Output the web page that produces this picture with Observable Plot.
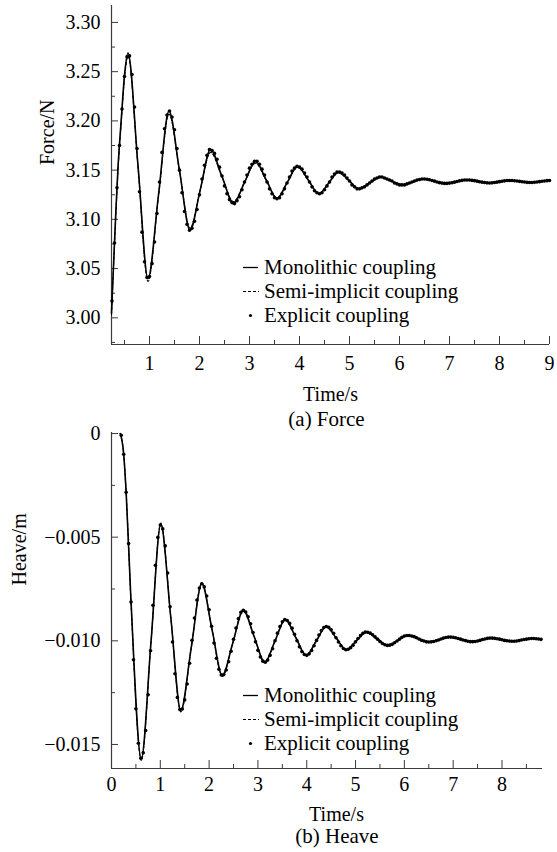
<!DOCTYPE html>
<html><head><meta charset="utf-8">
<script src="https://cdn.jsdelivr.net/npm/d3@7"></script>
<script src="https://cdn.jsdelivr.net/npm/@observablehq/plot@0.6"></script>
<style>
html,body{margin:0;padding:0;background:#fff;}
#page{position:relative;width:557px;height:852px;font-family:"Liberation Serif","Times New Roman",serif;color:#000;overflow:hidden;}
.caption{position:absolute;font-size:21px;line-height:20px;white-space:nowrap;transform:translateX(-50%);}
.legend{position:absolute;font-size:21px;line-height:24px;}
.legend .row{display:flex;align-items:center;height:24px;white-space:nowrap;}
.legend svg{display:block;flex:none;}
</style></head><body><div id="page"></div>
<script>
// ---------- (a) Force ----------
const forceKeyT = [0.24,0.32,0.367,0.433,0.507,0.57,0.77,0.97,1.18,1.39,1.60,1.81,2.015,2.22,2.45,2.68,2.90,3.12,3.335,3.55,3.755,3.96,4.175,4.39,4.585,4.78,4.985,5.19,5.405,5.62,5.835,6.05,6.265,6.48,6.70,6.92,7.135,7.35,7.575,7.80,8.00,8.20,8.41,8.62,8.83,9.00];
const forceMono = [3.005,3.100,3.150,3.200,3.250,3.269,3.1545,3.040,3.125,3.210,3.1495,3.089,3.130,3.171,3.1435,3.116,3.1375,3.159,3.140,3.121,3.1375,3.154,3.140,3.126,3.137,3.148,3.1395,3.131,3.137,3.143,3.139,3.135,3.138,3.141,3.13875,3.1365,3.13825,3.140,3.1385,3.137,3.13825,3.1395,3.1385,3.1375,3.1385,3.1395];
const forceSemi = [3.003,3.097,3.147,3.197,3.247,3.266,3.1535,3.037,3.123,3.207,3.149,3.091,3.130,3.168,3.143,3.118,3.1375,3.157,3.1395,3.122,3.1375,3.153,3.140,3.126,3.137,3.148,3.1395,3.131,3.137,3.143,3.139,3.135,3.138,3.141,3.13875,3.1365,3.13825,3.140,3.1385,3.137,3.13825,3.1395,3.1385,3.1375,3.1385,3.1395];
const forceExplT = [0.25,0.30,0.35,0.40,0.45,0.50,0.55,0.60,0.65,0.70,0.75,0.80,0.85,0.90,0.95,1.00,1.05,1.10,1.15,1.20,1.25,1.30,1.35,1.40,1.45,1.50,1.55,1.60,1.65,1.70,1.75,1.80,1.85,1.90,1.95,2.00,2.05,2.10,2.15,2.20,2.25,2.30,2.35,2.40,2.45,2.50,2.55,2.60,2.65,2.70,2.75,2.80,2.85,2.90,2.95,3.00,3.05,3.10,3.15,3.20,3.25,3.30,3.35,3.40,3.45,3.50,3.55,3.60,3.65,3.70,3.75,3.80,3.85,3.90,3.95,4.00,4.05,4.10,4.15,4.20,4.25,4.30,4.35,4.40,4.45,4.50,4.55,4.60,4.65,4.70,4.75,4.80,4.85,4.90,4.95,5.00,5.05,5.10,5.15,5.20,5.25,5.30,5.35,5.40,5.45,5.50,5.55,5.60,5.65,5.70,5.75,5.80,5.85,5.90,5.95,6.00,6.05,6.10,6.15,6.20,6.25,6.30,6.35,6.40,6.45,6.50,6.55,6.60,6.65,6.70,6.75,6.80,6.85,6.90,6.95,7.00,7.05,7.10,7.15,7.20,7.25,7.30,7.35,7.40,7.45,7.50,7.55,7.60,7.65,7.70,7.75,7.80,7.85,7.90,7.95,8.00,8.05,8.10,8.15,8.20,8.25,8.30,8.35,8.40,8.45,8.50,8.55,8.60,8.65,8.70,8.75,8.80,8.85,8.90,8.95,9.00];
const forceExplV = [3.017,3.076,3.132,3.175,3.212,3.245,3.265,3.266,3.247,3.214,3.172,3.128,3.087,3.057,3.041,3.042,3.055,3.077,3.106,3.138,3.168,3.192,3.206,3.210,3.204,3.191,3.172,3.150,3.127,3.108,3.095,3.089,3.091,3.098,3.110,3.125,3.141,3.155,3.165,3.171,3.170,3.167,3.161,3.153,3.144,3.134,3.126,3.120,3.117,3.116,3.119,3.123,3.130,3.138,3.145,3.152,3.156,3.159,3.159,3.156,3.151,3.145,3.138,3.131,3.126,3.122,3.121,3.122,3.126,3.131,3.137,3.143,3.149,3.152,3.154,3.153,3.151,3.147,3.143,3.138,3.133,3.129,3.127,3.126,3.127,3.130,3.134,3.138,3.143,3.146,3.148,3.148,3.147,3.145,3.142,3.139,3.135,3.133,3.131,3.131,3.132,3.133,3.135,3.137,3.139,3.141,3.142,3.143,3.143,3.142,3.141,3.140,3.139,3.137,3.136,3.135,3.135,3.135,3.136,3.137,3.138,3.139,3.140,3.1405,3.141,3.141,3.1407,3.1402,3.1395,3.1388,3.138,3.1373,3.1368,3.1365,3.1365,3.1368,3.1372,3.1378,3.1384,3.1391,3.1396,3.1399,3.1400,3.1399,3.1396,3.1393,3.1388,3.1382,3.1378,3.1374,3.1371,3.1370,3.1371,3.1374,3.1378,3.1383,3.1387,3.1391,3.1394,3.1395,3.1394,3.1392,3.1389,3.1386,3.1382,3.1379,3.1376,3.1375,3.1375,3.1377,3.1379,3.1383,3.1387,3.1390,3.1393,3.1395];
const forceXTicks = [1,2,3,4,5,6,7,8,9];
const forceXMinor = [0.5,1.5,2.5,3.5,4.5,5.5,6.5,7.5,8.5];
const forceYTicks = [3.00,3.05,3.10,3.15,3.20,3.25,3.30];
const forceYMinor = [2.975,3.025,3.075,3.125,3.175,3.225,3.275];

// ---------- (b) Heave ----------
const heaveKeyT = [0.18,0.25,0.30,0.395,0.61,0.81,1.01,1.215,1.42,1.635,1.85,2.06,2.27,2.485,2.70,2.92,3.14,3.35,3.56,3.775,3.99,4.195,4.40,4.605,4.81,5.015,5.22,5.44,5.66,5.865,6.07,6.29,6.51,6.72,6.93,7.16,7.39,7.58,7.77,7.99,8.21,8.415,8.62,8.80];
const heaveMono = [0,-0.00100,-0.00283,-0.00784,-0.01568,-0.010035,-0.00439,-0.008875,-0.01336,-0.010305,-0.00725,-0.00946,-0.01167,-0.0101,-0.00853,-0.00978,-0.01103,-0.010005,-0.00898,-0.00984,-0.01070,-0.010005,-0.00931,-0.00987,-0.01043,-0.010005,-0.00958,-0.0099,-0.01022,-0.00998,-0.00974,-0.0099,-0.01006,-0.00994,-0.00982,-0.00993,-0.01004,-0.009955,-0.00987,-0.009945,-0.01002,-0.009955,-0.00989,-0.00993];
const heaveSemi = [0,-0.00100,-0.00285,-0.00789,-0.01578,-0.01005,-0.00432,-0.008875,-0.01343,-0.010315,-0.00720,-0.00946,-0.01172,-0.010105,-0.00849,-0.009775,-0.01106,-0.01001,-0.00896,-0.00983,-0.01070,-0.010005,-0.00931,-0.00987,-0.01043,-0.010005,-0.00958,-0.0099,-0.01022,-0.00998,-0.00974,-0.0099,-0.01006,-0.00994,-0.00982,-0.00993,-0.01004,-0.009955,-0.00987,-0.009945,-0.01002,-0.009955,-0.00989,-0.00993];
const heaveExplT = [0.20,0.25,0.30,0.35,0.40,0.45,0.50,0.55,0.60,0.65,0.70,0.75,0.80,0.85,0.90,0.95,1.00,1.05,1.10,1.15,1.20,1.25,1.30,1.35,1.40,1.45,1.50,1.55,1.60,1.65,1.70,1.75,1.80,1.85,1.90,1.95,2.00,2.05,2.10,2.15,2.20,2.25,2.30,2.35,2.40,2.45,2.50,2.55,2.60,2.65,2.70,2.75,2.80,2.85,2.90,2.95,3.00,3.05,3.10,3.15,3.20,3.25,3.30,3.35,3.40,3.45,3.50,3.55,3.60,3.65,3.70,3.75,3.80,3.85,3.90,3.95,4.00,4.05,4.10,4.15,4.20,4.25,4.30,4.35,4.40,4.45,4.50,4.55,4.60,4.65,4.70,4.75,4.80,4.85,4.90,4.95,5.00,5.05,5.10,5.15,5.20,5.25,5.30,5.35,5.40,5.45,5.50,5.55,5.60,5.65,5.70,5.75,5.80,5.85,5.90,5.95,6.00,6.05,6.10,6.15,6.20,6.25,6.30,6.35,6.40,6.45,6.50,6.55,6.60,6.65,6.70,6.75,6.80,6.85,6.90,6.95,7.00,7.05,7.10,7.15,7.20,7.25,7.30,7.35,7.40,7.45,7.50,7.55,7.60,7.65,7.70,7.75,7.80,7.85,7.90,7.95,8.00,8.05,8.10,8.15,8.20,8.25,8.30,8.35,8.40,8.45,8.50,8.55,8.60,8.65,8.70,8.75,8.80];
const heaveExplV = [-0.00008,-0.00100,-0.00283,-0.00531,-0.00813,-0.01091,-0.01328,-0.01494,-0.01566,-0.01540,-0.01433,-0.01260,-0.01048,-0.00829,-0.00636,-0.00501,-0.00441,-0.00460,-0.00542,-0.00673,-0.00836,-0.01006,-0.01159,-0.01273,-0.01331,-0.01329,-0.01285,-0.01208,-0.01108,-0.00997,-0.00890,-0.00803,-0.00745,-0.00725,-0.00740,-0.00784,-0.00850,-0.00930,-0.01011,-0.01084,-0.01137,-0.01165,-0.01163,-0.01141,-0.01101,-0.01050,-0.00993,-0.00938,-0.00893,-0.00863,-0.00853,-0.00861,-0.00884,-0.00918,-0.00960,-0.01005,-0.01046,-0.01078,-0.01098,-0.01103,-0.01093,-0.01070,-0.01038,-0.01000,-0.00963,-0.00931,-0.00908,-0.00898,-0.00902,-0.00916,-0.00939,-0.00968,-0.01000,-0.01029,-0.01052,-0.01066,-0.01070,-0.01063,-0.01047,-0.01024,-0.00998,-0.00972,-0.00950,-0.00936,-0.00931,-0.00935,-0.00947,-0.00964,-0.00985,-0.01006,-0.01024,-0.01037,-0.01043,-0.01041,-0.01033,-0.01021,-0.01005,-0.00989,-0.00975,-0.00964,-0.00958,-0.00959,-0.00963,-0.00971,-0.00981,-0.00992,-0.01003,-0.01013,-0.01019,-0.01022,-0.01021,-0.01017,-0.01009,-0.01001,-0.00992,-0.00983,-0.00977,-0.00974,-0.00974,-0.00977,-0.00980,-0.00985,-0.00991,-0.00997,-0.01001,-0.01005,-0.01006,-0.01005,-0.01003,-0.01000,-0.00996,-0.00991,-0.00987,-0.00984,-0.00982,-0.00982,-0.00983,-0.00985,-0.00989,-0.00992,-0.00996,-0.00999,-0.01002,-0.01004,-0.01004,-0.01003,-0.01001,-0.00998,-0.00994,-0.00991,-0.00988,-0.00987,-0.00987,-0.00988,-0.00990,-0.00992,-0.00995,-0.00998,-0.01000,-0.01001,-0.01002,-0.01002,-0.01001,-0.00999,-0.00996,-0.00994,-0.00992,-0.00990,-0.00989,-0.00989,-0.00990,-0.00991,-0.00993];
const heaveXTicks = [0,1,2,3,4,5,6,7,8];
const heaveXMinor = [0.5,1.5,2.5,3.5,4.5,5.5,6.5,7.5,8.5];
const heaveYTicks = [0,-0.005,-0.010,-0.015];
const heaveYMinor = [-0.0025,-0.0075,-0.0125];

const seriesNames = ["Monolithic coupling","Semi-implicit coupling","Explicit coupling"];

// ---------- helpers ----------
const FONT = '"Liberation Serif","Times New Roman",serif';
const AX = "#3a3a3a";
const zip = (T, V) => T.map((t, i) => ({t, v: V[i]}));

function panel(o) {
  const W = 557, ML = 111;
  const frameH = o.height - o.marginTop - o.marginBottom;
  const frameW = W - ML - o.marginRight;
  return Plot.plot({
    width: W, height: o.height,
    marginTop: o.marginTop, marginBottom: o.marginBottom, marginLeft: ML, marginRight: o.marginRight,
    style: {fontFamily: FONT, fontSize: "20px", color: "black", background: "transparent", overflow: "visible"},
    x: {domain: o.xDomain},
    y: {domain: o.yDomain},
    marks: [
      Plot.axisX(o.xTicks, {anchor: "bottom", tickSize: 0, tickPadding: o.xPad, tickFormat: d => String(d), label: null}),
      Plot.axisY(o.yTicks, {anchor: "left", tickSize: 0, tickPadding: 11, tickFormat: o.yFormat, label: null}),
      // inward ticks
      Plot.ruleX(o.xTicks, {x: d => d, stroke: AX, insetTop: frameH - 8}),
      Plot.ruleX(o.xMinor, {x: d => d, stroke: AX, insetTop: frameH - 4}),
      Plot.ruleY(o.yTicks, {y: d => d, stroke: AX, insetRight: frameW - 7}),
      Plot.ruleY(o.yMinor, {y: d => d, stroke: AX, insetRight: frameW - 4}),
      // axis lines
      Plot.ruleX([o.xDomain[0]], {stroke: AX, strokeWidth: 1.2}),
      Plot.ruleY([o.yDomain[0]], {stroke: AX, strokeWidth: 1.2}),
      // series
      Plot.line(o.mono, {x: "t", y: "v", curve: "monotone-x", stroke: "black", strokeWidth: 1.6}),
      Plot.line(o.semi, {x: "t", y: "v", curve: "monotone-x", stroke: "black", strokeWidth: 1.1, strokeDasharray: "3,2"}),
      Plot.dot(o.expl, {x: "t", y: "v", r: 1.8, fill: "black", stroke: null}),
      // axis titles
      Plot.text([o.xLabel], {text: d => d, frameAnchor: "bottom", dx: o.xLabelDx, dy: o.xLabelDy, lineAnchor: "bottom"}),
      Plot.text([o.yLabel], {text: d => d, frameAnchor: "left", rotate: -90, dx: o.yLabelDx, dy: o.yLabelDy, lineAnchor: "middle"})
    ]
  });
}

function legend(left, top) {
  const div = document.createElement("div");
  div.className = "legend";
  div.style.left = left + "px";
  div.style.top = top + "px";
  const icons = [
    '<line x1="1" x2="16" y1="12.5" y2="12.5" stroke="black" stroke-width="1.3"/>',
    '<line x1="1" x2="17" y1="12.5" y2="12.5" stroke="black" stroke-width="1" stroke-dasharray="3,2"/>',
    '<circle cx="8.5" cy="12.5" r="1.6" fill="black"/>'
  ];
  seriesNames.forEach((name, i) => {
    const row = document.createElement("div");
    row.className = "row";
    row.innerHTML = `<svg width="22" height="24">${icons[i]}</svg><span>${name}</span>`;
    div.appendChild(row);
  });
  return div;
}

function caption(text, cx, top) {
  const d = document.createElement("div");
  d.className = "caption";
  d.style.left = cx + "px";
  d.style.top = top + "px";
  d.textContent = text;
  return d;
}

const page = document.getElementById("page");

const forcePlot = panel({
  height: 408, marginTop: 5, marginBottom: 64, marginRight: 8,
  xDomain: [0.24, 9], yDomain: [2.9729, 3.3172],
  xTicks: forceXTicks, xMinor: forceXMinor, yTicks: forceYTicks, yMinor: forceYMinor,
  yFormat: d3.format(".2f"), xPad: 11,
  mono: zip(forceKeyT, forceMono), semi: zip(forceKeyT, forceSemi), expl: zip(forceExplT, forceExplV),
  xLabel: "Time/s", xLabelDx: 0, xLabelDy: 56,
  yLabel: "Force/N", yLabelDx: -63.5, yLabelDy: -10
});
forcePlot.style.position = "absolute"; forcePlot.style.left = "0px"; forcePlot.style.top = "0px";
page.appendChild(forcePlot);

const heavePlot = panel({
  height: 432, marginTop: 12, marginBottom: 84, marginRight: 15,
  xDomain: [0, 8.83], yDomain: [-0.01616, 0.00005],
  xTicks: heaveXTicks, xMinor: heaveXMinor, yTicks: heaveYTicks, yMinor: heaveYMinor,
  yFormat: d => d === 0 ? "0" : d3.format(".3f")(d), xPad: 8,
  mono: zip(heaveKeyT, heaveMono), semi: zip(heaveKeyT, heaveSemi), expl: zip(heaveExplT, heaveExplV),
  xLabel: "Time/s", xLabelDx: 9.5, xLabelDy: 52,
  yLabel: "Heave/m", yLabelDx: -91.5, yLabelDy: -15
});
heavePlot.style.position = "absolute"; heavePlot.style.left = "0px"; heavePlot.style.top = "420px";
page.appendChild(heavePlot);

page.appendChild(legend(242, 255));
page.appendChild(legend(242, 683));
page.appendChild(caption("(a) Force", 326.5, 409));
page.appendChild(caption("(b) Heave", 337, 826));
</script></body></html>
